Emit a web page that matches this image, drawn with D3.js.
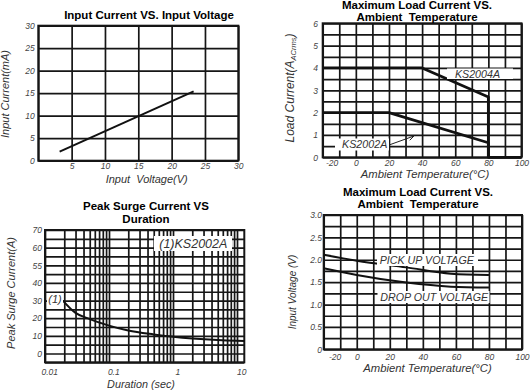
<!DOCTYPE html>
<html><head><meta charset="utf-8">
<script src="https://cdn.jsdelivr.net/npm/d3@7"></script>
<style>
body{margin:0;background:#fff;}
svg{display:block;font-family:"Liberation Sans",Arial,Helvetica,sans-serif;}
.tick-label{font-size:8.5px;font-style:italic;fill:#444;}
.title{font-size:11.5px;font-weight:bold;fill:#000;white-space:pre;}
.axis-title{font-size:11px;font-style:italic;fill:#333;white-space:pre;}
.note{font-size:10.7px;font-style:italic;fill:#333;white-space:pre;}
</style></head><body>
<svg id="c" width="530" height="391"></svg>
<script>
// ---------- data ----------
// Chart 1: Input Current vs Input Voltage
const icVoltage = [3.2, 23.3];
const icCurrent = [2, 15.4];
const icXTicks = [5, 10, 15, 20, 25, 30];
const icYTicks = [0, 5, 10, 15, 20, 25, 30];

// Chart 2: Maximum Load Current vs Ambient Temperature
const load2004Temp = [-20, 40, 80, 80, 100];
const load2004Cur = [4, 4, 2.7, 0, 0];
const load2002Temp = [-20, 20, 80, 80];
const load2002Cur = [2, 2, 0.65, 0];
const loadXTicks = [-20, 0, 20, 40, 60, 80, 100];
const loadYTicks = [0, 1, 2, 3, 4, 5, 6];

// Chart 3: Peak Surge Current vs Duration
const surgeDuration = [0.019, 0.03, 0.05, 0.1, 0.2, 0.5, 1, 2, 5, 10, 13];
const surgeCurrent = [30, 23, 19.5, 15.8, 13, 10.8, 9.5, 8.5, 7.6, 7.2, 7.1];
const surgeXTicks = [0.01, 0.1, 1, 10];
const surgeXTickLabels = ["0.01", "0.1", "1", "10"];
const surgeYTicks = [0, 10, 20, 30, 40, 50, 60, 70];
const surgeYTickLabels = ["0", "10", "20", "30", "40", "55", "60", "70"];

// Chart 4: Input Voltage vs Ambient Temperature
const voltTemp = [-20, 0, 30, 57, 80];
const pickUpVoltage = [2.11, 1.98, 1.83, 1.69, 1.66];
const dropOutVoltage = [1.81, 1.66, 1.49, 1.40, 1.38];
const voltXTicks = [-20, 0, 20, 40, 60, 80, 100];
const voltYTicks = [0, 0.5, 1, 1.5, 2, 2.5, 3];
const voltYTickLabels = ["0", "0.5", "1.0", "1.5", "2.0", "2.5", "3.0"];

// ---------- helpers ----------
const svg = d3.select("#c");
const GRID = "#161616";

function grid(g, x, y, xGrid, yGrid) {
  const [x0, x1] = x.range(), [y0, y1] = y.range();
  const w = x1 - x0, h = y0 - y1;
  const style = s => { s.select(".domain").remove(); s.selectAll("line").attr("stroke", GRID).attr("stroke-width", 1.7); };
  g.append("g").attr("transform", `translate(0,${y0})`)
    .call(d3.axisBottom(x).tickValues(xGrid).tickSize(-h).tickFormat("")).call(style);
  g.append("g").attr("transform", `translate(${x0},0)`)
    .call(d3.axisLeft(y).tickValues(yGrid).tickSize(-w).tickFormat("")).call(style);
  g.append("rect").attr("x", x0).attr("y", y1).attr("width", w).attr("height", h)
    .attr("fill", "none").attr("stroke", GRID).attr("stroke-width", 2);
}
function labelStyle(s) {
  s.select(".domain").remove();
  s.attr("font-family", null).attr("font-size", null);
  s.selectAll("text").attr("class", "tick-label").attr("fill", null);
}
function xLabels(g, x, y, vals, fmt, pad) {
  return g.append("g").attr("transform", `translate(0,${y.range()[0]})`)
    .call(d3.axisBottom(x).tickValues(vals).tickSize(0).tickPadding(pad).tickFormat(fmt)).call(labelStyle);
}
function yLabels(g, x, y, vals, fmt, pad) {
  return g.append("g").attr("transform", `translate(${x.range()[0]},0)`)
    .call(d3.axisLeft(y).tickValues(vals).tickSize(0).tickPadding(pad).tickFormat(fmt)).call(labelStyle);
}
function title(lines, cx, baselines) {
  lines.forEach((t, i) => svg.append("text").attr("class", "title").attr("x", cx).attr("y", baselines[i])
    .attr("text-anchor", "middle").text(t));
}
function xTitle(t, cx, by, fs) {
  return svg.append("text").attr("class", "axis-title").attr("x", cx).attr("y", by)
    .attr("text-anchor", "middle").style("font-size", fs + "px").text(t);
}
function yTitle(t, bx, cy, fs) {
  return svg.append("text").attr("class", "axis-title")
    .attr("transform", `translate(${bx},${cy}) rotate(-90)`)
    .attr("text-anchor", "middle").style("font-size", fs + "px").text(t);
}
function series(g, x, y, xs, ys, w, curve) {
  g.append("path").datum(d3.range(xs.length))
    .attr("fill", "none").attr("stroke", "#111").attr("stroke-width", w)
    .attr("stroke-linejoin", "round")
    .attr("d", d3.line().x(i => x(xs[i])).y(i => y(ys[i])).curve(curve || d3.curveLinear));
}
function note(g, t, cx, by, box, fs) {
  g.append("rect").attr("x", box[0]).attr("y", box[1]).attr("width", box[2]).attr("height", box[3]).attr("fill", "#fff");
  return g.append("text").attr("class", "note").attr("x", cx).attr("y", by).attr("text-anchor", "middle")
    .style("font-size", (fs || 10.7) + "px").text(t);
}

// ---------- Chart 1 ----------
{
  const g = svg.append("g");
  const x = d3.scaleLinear().domain([0, 30]).range([38.3, 238.3]);
  const y = d3.scaleLinear().domain([0, 30]).range([160.7, 25.7]);
  grid(g, x, y, d3.range(0, 31, 5), d3.range(0, 31, 5));
  series(g, x, y, icVoltage, icCurrent, 2);
  xLabels(g, x, y, icXTicks, d => d, 2.3);
  yLabels(g, x, y, icYTicks, d => d, 3.5);
  title(["Input Current VS. Input Voltage"], 149, [19]);
  xTitle("Input  Voltage(V)", 146.7, 182.5, 11);
  yTitle("Input Current(mA)", 9, 94, 11);
}

// ---------- Chart 2 ----------
{
  const g = svg.append("g");
  const x = d3.scaleLinear().domain([-20, 100]).range([322.7, 521.5]);
  const y = d3.scaleLinear().domain([0, 6]).range([157.3, 23.3]);
  grid(g, x, y, d3.range(-20, 101, 10), d3.range(0, 6.01, 0.5));
  series(g, x, y, load2004Temp, load2004Cur, 2.8);
  series(g, x, y, load2002Temp, load2002Cur, 2.8);
  xLabels(g, x, y, loadXTicks, d => d, 3).selectAll("text").filter(d => d === -20).attr("dx", 9);
  yLabels(g, x, y, loadYTicks, d => d, 4.7);
  note(g, "KS2004A", 477.5, 78, [447, 68.5, 66, 10.5]);
  note(g, "KS2002A", 364.7, 147.7, [335, 138.5, 54, 12]);
  // arrow
  const a0 = [389, 145], a1 = [414, 136];
  const ang = Math.atan2(a1[1] - a0[1], a1[0] - a0[0]);
  g.append("line").attr("x1", a0[0]).attr("y1", a0[1]).attr("x2", a1[0]).attr("y2", a1[1])
    .attr("stroke", "#222").attr("stroke-width", 1);
  [ang + 2.7, ang - 2.7].forEach(t => g.append("line")
    .attr("x1", a1[0]).attr("y1", a1[1]).attr("x2", a1[0] + 6 * Math.cos(t)).attr("y2", a1[1] + 6 * Math.sin(t))
    .attr("stroke", "#222").attr("stroke-width", 1));
  title(["Maximum Load Current VS.", "Ambient  Temperature"], 417, [9, 20.7]);
  xTitle("Ambient Temperature(°C)", 425, 177.5, 11.3);
  const yt = yTitle("Load Current(A", 294, 88, 12);
  yt.append("tspan").style("font-size", "7.5px").attr("dy", 2).text("ACrms");
  yt.append("tspan").attr("dy", -2).text(")");
}

// ---------- Chart 3 ----------
{
  const g = svg.append("g");
  const x = d3.scaleLog().domain([0.01, 13]).range([45, 244.3]);
  const y = d3.scaleLinear().domain([-5, 70]).range([362.3, 230]);
  const xGrid = [];
  [0.01, 0.1, 1].forEach(b => d3.range(1, 10).forEach(k => xGrid.push(b * k)));
  xGrid.push(10);
  grid(g, x, y, xGrid, d3.range(-5, 71, 5));
  series(g, x, y, surgeDuration, surgeCurrent, 2, d3.curveMonotoneX);
  xLabels(g, x, y, surgeXTicks, (d, i) => surgeXTickLabels[i], 6.7).selectAll("text").attr("dx", 4.3);
  yLabels(g, x, y, surgeYTicks, (d, i) => surgeYTickLabels[i], 3);
  note(g, "(1)", 55, 303, [47, 294, 16, 12], 11);
  note(g, "(1)KS2002A", 193.3, 247.5, [154, 236, 78, 15], 12.5);
  title(["Peak Surge Current VS", "Duration"], 146, [210, 222.7]);
  xTitle("Duration (sec)", 141, 388, 10.8);
  yTitle("Peak Surge Current(A)", 15, 293, 11);
}

// ---------- Chart 4 ----------
{
  const g = svg.append("g");
  const x = d3.scaleLinear().domain([-20, 100]).range([323.7, 522]);
  const y = d3.scaleLinear().domain([0, 3]).range([349.3, 215]);
  grid(g, x, y, d3.range(-20, 101, 10), d3.range(0, 3.01, 0.25));
  series(g, x, y, voltTemp, pickUpVoltage, 2, d3.curveMonotoneX);
  series(g, x, y, voltTemp, dropOutVoltage, 2, d3.curveMonotoneX);
  xLabels(g, x, y, voltXTicks, d => d, 4.7).selectAll("text").filter(d => d === -20).attr("dx", 11);
  yLabels(g, x, y, voltYTicks, (d, i) => voltYTickLabels[i], 1.7);
  note(g, "PICK UP VOLTAGE", 426.8, 263.5, [377, 254, 101, 12]);
  note(g, "DROP OUT VOLTAGE", 434.2, 301, [377.5, 291, 112, 12]);
  title(["Maximum Load Current VS.", "Ambient  Temperature"], 418, [196, 208.3]);
  xTitle("Ambient Temperature(°C)", 427.5, 372, 11.3);
  yTitle("Input Voltage (V)", 296, 292, 10);
}
</script>
</body></html>
